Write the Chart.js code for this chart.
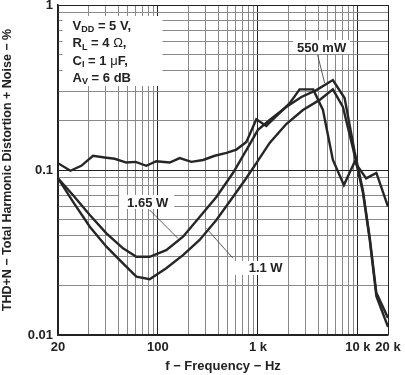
<!DOCTYPE html>
<html>
<head>
<meta charset="utf-8">
<script src="https://cdn.jsdelivr.net/npm/chart.js@4.4.0/dist/chart.umd.min.js"></script>
<style>
html, body { margin: 0; padding: 0; background: #fff; }
#wrap { width: 405px; height: 375px; }
</style>
</head>
<body>
<div id="wrap"><canvas id="thdChart" width="405" height="375"></canvas></div>
<script>
// Valores (eixo x em Hz na escala do desenho, THD+N em %)
const freq550 = [10, 13.3, 17.1, 22.4, 29.3, 36.9, 48.3, 59.8, 76.5, 96.2, 131, 165, 216, 283, 370, 485, 609, 766, 964, 1210, 1650, 2080, 2610, 3570, 4470, 5620, 7240, 9270, 12100, 15300, 20000];
const thd550 = [0.110, 0.099, 0.106, 0.122, 0.119, 0.117, 0.111, 0.112, 0.106, 0.113, 0.111, 0.118, 0.112, 0.115, 0.122, 0.127, 0.133, 0.148, 0.203, 0.185, 0.222, 0.254, 0.308, 0.308, 0.231, 0.115, 0.081, 0.112, 0.089, 0.096, 0.060];

const freq1650 = [10, 14.1, 20.8, 30.5, 44.7, 60.8, 82.6, 121, 178, 261, 384, 562, 766, 1000, 1310, 1920, 2720, 3840, 5620, 7360, 9270, 11200, 13100, 15300, 20000];
const thd1650 = [0.089, 0.0706, 0.0534, 0.0413, 0.0335, 0.0298, 0.0298, 0.0327, 0.0394, 0.0519, 0.0686, 0.0959, 0.132, 0.175, 0.201, 0.241, 0.277, 0.305, 0.351, 0.273, 0.129, 0.0757, 0.0393, 0.018, 0.0127];

const freq1100 = [10, 14.1, 20.8, 30.5, 44.7, 60.8, 82.6, 121, 178, 261, 384, 562, 766, 964, 1310, 1920, 2820, 4140, 5620, 7080, 8910, 11200, 13100, 15300, 20000];
const thd1100 = [0.089, 0.0643, 0.0453, 0.0343, 0.0272, 0.0226, 0.0218, 0.0254, 0.0305, 0.0377, 0.0498, 0.0686, 0.0894, 0.110, 0.146, 0.190, 0.231, 0.266, 0.308, 0.241, 0.136, 0.0736, 0.0382, 0.0172, 0.0112];

const xTicks = [10, 100, 1000, 10000, 20000];
const xTickLabels = ['20', '100', '1 k', '10 k', '20 k'];
const yTicks = [0.01, 0.1, 1];
const yTickLabels = ['0.01', '0.1', '1'];

const FONT = '"Liberation Sans", Arial, Helvetica, sans-serif';
const LINE = '#262626';

// linhas de grade: 1..9 por década
function gridValues(decades, last) {
  const out = [];
  decades.forEach(d => {
    for (let k = 1; k <= 9; k++) out.push(Number((k * d).toPrecision(6)));
  });
  out.push(last);
  return out;
}
const xGrid = gridValues([10, 100, 1000], 10000).concat([20000]);
const yGrid = gridValues([0.01, 0.1], 1);

function same(a, b) { return Math.abs(a - b) <= Math.abs(b) * 1e-6; }
function isDecade(v) { const l = Math.log10(v); return Math.abs(l - Math.round(l)) < 1e-6; }
function pairs(xs, ys) { return xs.map((x, i) => ({ x: x, y: ys[i] })); }

// caixas de texto (posições em coordenadas de dados)
const infoBox = { x0: 11.1, x1: 111, y0: 0.858, y1: 0.323, tx: 14.0, rows: [0.746, 0.588, 0.458, 0.361] };
const infoRows = [
  [{ t: 'V' }, { t: 'DD', sub: true }, { t: ' = 5 V,' }],
  [{ t: 'R' }, { t: 'L', sub: true }, { t: ' = 4 ' }, { t: 'Ω', sym: true }, { t: ',' }],
  [{ t: 'C' }, { t: 'I', sub: true }, { t: ' = 1 ' }, { t: 'μ', sym: true }, { t: 'F,' }],
  [{ t: 'A' }, { t: 'V', sub: true }, { t: ' = 6 dB' }]
];
const curveNotes = [
  { text: '550 mW', x: 4335, y: 0.557, from: [3955, 0.498], to: [4645, 0.337], padL: 4, padR: 4 },
  { text: '1.65 W', x: 78.9, y: 0.064, from: [82.6, 0.0572], to: [158.5, 0.0385], padL: 8, padR: 6 },
  { text: '1.1 W', x: 1194, y: 0.0255, from: [562, 0.0292], to: [305, 0.0443], padL: 16, padR: 5 }
];

function drawRuns(ctx, x, y, runs) {
  runs.forEach(r => {
    ctx.font = r.sub ? 'bold 9px ' + FONT : (r.sym ? '13px ' + FONT : 'bold 13px ' + FONT);
    ctx.fillText(r.t, x, y + (r.sub ? 4 : 0));
    x += ctx.measureText(r.t).width;
  });
}

const notesPlugin = {
  id: 'notes',
  afterDatasetsDraw(chart) {
    const { ctx } = chart;
    const sx = chart.scales.x, sy = chart.scales.y;
    ctx.save();
    // caixa de condições
    const bx0 = sx.getPixelForValue(infoBox.x0), bx1 = sx.getPixelForValue(infoBox.x1);
    const by0 = sy.getPixelForValue(infoBox.y0), by1 = sy.getPixelForValue(infoBox.y1);
    ctx.fillStyle = '#fff';
    ctx.fillRect(bx0, by0, bx1 - bx0, by1 - by0);
    ctx.fillStyle = '#222';
    ctx.textBaseline = 'middle';
    ctx.textAlign = 'left';
    infoRows.forEach((runs, i) => {
      drawRuns(ctx, sx.getPixelForValue(infoBox.tx), sy.getPixelForValue(infoBox.rows[i]), runs);
    });
    // rótulos das curvas com linha de chamada
    curveNotes.forEach(n => {
      ctx.strokeStyle = '#333';
      ctx.lineWidth = 0.8;
      ctx.beginPath();
      ctx.moveTo(sx.getPixelForValue(n.from[0]), sy.getPixelForValue(n.from[1]));
      ctx.lineTo(sx.getPixelForValue(n.to[0]), sy.getPixelForValue(n.to[1]));
      ctx.stroke();
      ctx.font = 'bold 13px ' + FONT;
      const w = ctx.measureText(n.text).width;
      const cx = sx.getPixelForValue(n.x), cy = sy.getPixelForValue(n.y);
      ctx.fillStyle = '#fff';
      ctx.fillRect(cx - w / 2 - n.padL, cy - 7, w + n.padL + n.padR, 14);
      ctx.fillStyle = '#222';
      ctx.textAlign = 'center';
      ctx.fillText(n.text, cx, cy + 1);
    });
    ctx.restore();
  }
};

function series(label, xs, ys) {
  return {
    label: label,
    data: pairs(xs, ys),
    borderColor: LINE,
    borderWidth: 2.4,
    pointRadius: 0,
    tension: 0,
    fill: false
  };
}

const ctx = document.getElementById('thdChart').getContext('2d');
const thdChart = new Chart(ctx, {
  type: 'line',
  data: {
    datasets: [
      series('550 mW', freq550, thd550),
      series('1.65 W', freq1650, thd1650),
      series('1.1 W', freq1100, thd1100)
    ]
  },
  options: {
    responsive: false,
    devicePixelRatio: 1,
    animation: false,
    layout: { padding: { left: 0, right: 17, top: 5, bottom: 0 } },
    plugins: { legend: { display: false }, tooltip: { enabled: false } },
    scales: {
      x: {
        type: 'logarithmic',
        min: 10,
        max: 20000,
        afterBuildTicks: s => { s.ticks = xGrid.map(v => ({ value: v })); },
        afterFit: s => { s.height = 40; s.paddingLeft = 0; s.paddingRight = 0; },
        ticks: {
          autoSkip: false,
          maxRotation: 0,
          padding: 5,
          color: '#222',
          font: { family: FONT, size: 13, weight: 'bold' },
          callback: v => {
            const i = xTicks.findIndex(t => same(v, t));
            return i >= 0 ? xTickLabels[i] : '';
          }
        },
        grid: {
          drawTicks: false,
          lineWidth: 1,
          color: c => (isDecade(c.tick.value) || same(c.tick.value, 20000)) ? '#222' : '#888'
        },
        border: { color: '#222', width: 1.5 },
        title: {
          display: true,
          text: 'f − Frequency − Hz',
          color: '#222',
          font: { family: FONT, size: 13, weight: 'bold' },
          padding: { top: 0, bottom: 1 }
        }
      },
      y: {
        type: 'logarithmic',
        min: 0.01,
        max: 1,
        afterBuildTicks: s => { s.ticks = yGrid.map(v => ({ value: v })); },
        afterFit: s => { s.width = 58; s.paddingTop = 0; s.paddingBottom = 0; },
        ticks: {
          autoSkip: false,
          padding: 5,
          color: '#222',
          font: { family: FONT, size: 13, weight: 'bold' },
          callback: v => {
            const i = yTicks.findIndex(t => same(v, t));
            return i >= 0 ? yTickLabels[i] : '';
          }
        },
        grid: {
          drawTicks: false,
          lineWidth: 1,
          color: c => isDecade(c.tick.value) ? '#222' : '#888'
        },
        border: { color: '#222', width: 1.5 },
        title: {
          display: true,
          text: 'THD+N − Total Harmonic Distortion + Noise − %',
          color: '#222',
          font: { family: FONT, size: 12.5, weight: 'bold' },
          padding: 0
        }
      }
    }
  },
  plugins: [notesPlugin]
});
</script>
</body>
</html>
